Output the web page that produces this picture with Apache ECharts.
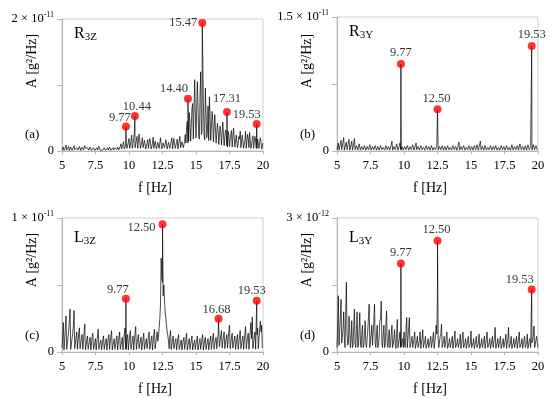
<!DOCTYPE html>
<html>
<head>
<meta charset="utf-8">
<script src="https://cdn.jsdelivr.net/npm/echarts@6/dist/echarts.min.js"></script>
<style>
html,body{margin:0;padding:0;background:#fff;}
#chart{width:550px;height:399px;}
</style>
</head>
<body>
<div id="chart"></div>
<script>
// Amplitudes are stored in units of 1e-12 g^2/Hz
const AMP_UNIT = 1e-12;
// Frequency bins (Hz): full bins 5.0 ... 20.0 and half bins 5.05 ... 19.95
const freqBins = [];
for (let i = 0; i <= 150; i++) freqBins.push(+(5 + i * 0.1).toFixed(2));
const halfBins = [];
for (let i = 0; i < 150; i++) halfBins.push(+(5.05 + i * 0.1).toFixed(2));

const xTicks = [5, 7.5, 10, 12.5, 15, 17.5, 20];

// (a) R3Z
const r3zAmp = [
0.15,0.6,0.1,0.9,0.15,0.7,0.1,0.5,0.15,0.8,
0.1,0.5,0.15,0.7,0.1,0.6,0.15,0.8,0.1,0.5,
0.15,0.6,0.1,0.4,0.7,0.1,0.5,0.15,0.6,0.1,
0.4,0.15,0.6,0.1,0.5,0.15,0.7,0.1,0.5,0.15,
0.8,0.2,0.9,0.25,1.1,0.3,1.4,0.3,1.2,0.4,
1.9,0.4,2.4,0.5,2.8,0.5,2.2,0.4,1.8,0.4,
2.0,0.3,1.5,0.4,1.7,0.3,1.3,0.4,2.1,0.3,
1.6,0.4,1.4,0.3,1.8,0.4,1.5,0.3,1.9,0.4,
1.4,0.4,2.0,0.4,1.6,0.4,1.8,0.4,2.2,0.4,
1.7,0.5,2.5,3.6,1.2,5.8,1.5,6.5,1.8,10.8,
2.0,10.5,2.2,8.4,2.5,14.8,2.4,9.5,2.0,6.8,
8.2,1.6,6.0,1.4,5.5,1.2,4.2,1.0,3.8,0.9,
4.4,0.8,3.2,0.8,3.0,0.7,2.6,0.6,3.5,0.6,
2.4,0.5,2.2,3.0,0.5,2.1,0.5,3.0,0.4,1.9,
2.8,0.4,1.7,0.4,2.2,0.4,1.8,0.4,2.0,0.3,
1.2];
const r3zHalf = [
0.4,0.1,0.5,0.15,0.4,0.1,0.6,0.1,0.4,0.15,
0.3,0.6,0.1,0.4,0.15,0.5,0.1,0.4,0.15,0.6,
0.1,0.4,0.15,0.5,0.1,0.4,0.15,0.7,0.1,0.4,
0.15,0.5,0.1,0.4,0.15,0.6,0.1,0.4,0.15,0.5,
0.4,0.6,0.2,0.7,0.3,1.0,0.3,0.9,0.4,1.3,
0.4,1.5,0.4,1.9,0.5,1.6,0.4,2.6,0.4,1.4,
0.5,1.6,0.3,1.2,0.4,1.9,0.3,1.1,0.4,1.5,
0.3,1.3,0.4,2.0,0.3,1.2,0.5,1.7,0.3,1.3,
0.4,1.5,0.3,1.9,0.4,1.3,0.3,1.6,0.5,1.4,
0.5,1.4,1.2,4.5,1.5,4.0,1.3,7.2,1.6,5.6,
1.9,6.8,1.8,12.0,3.0,7.5,1.7,5.8,2.8,1.6,
5.2,1.3,4.6,1.1,3.5,1.0,3.0,0.8,2.8,0.7,
2.5,0.6,2.7,0.6,2.3,0.5,3.1,0.6,2.0,0.5,
2.6,0.4,1.8,0.5,2.4,0.4,1.6,0.4,2.5,0.5,
1.6,0.4,2.3,0.4,1.5,0.4,1.9,0.3,1.4,0.4];
const r3zPeakFreq = [9.77, 10.44, 14.40, 15.47, 17.31, 19.53];
const r3zPeakAmp  = [3.7, 5.3, 7.9, 19.4, 5.9, 4.1];

// (b) R3Y
const r3yAmp = [
0.15,0.9,0.1,1.2,0.15,1.5,0.1,1.0,0.2,1.3,
0.15,1.1,0.1,1.4,0.15,0.8,0.1,1.0,0.15,0.7,
0.1,0.8,0.15,0.6,0.1,0.9,0.15,0.6,0.1,0.7,
0.1,0.6,0.15,0.8,0.1,0.5,0.15,0.7,0.1,0.6,
0.15,1.1,0.1,0.7,0.15,0.6,0.1,0.9,0.15,0.7,
0.1,0.6,0.15,0.8,0.1,0.7,0.15,0.5,0.1,0.9,
0.15,0.6,0.1,0.8,0.15,0.5,0.1,0.7,0.15,0.6,
0.1,0.7,0.15,0.5,0.1,0.8,0.15,0.6,0.1,0.7,
0.15,0.6,0.1,0.8,0.15,0.5,0.1,0.7,0.15,0.6,
0.1,1.0,0.15,0.6,0.1,0.7,0.15,0.5,0.1,0.8,
0.15,0.6,0.1,0.7,0.15,0.9,0.1,1.1,0.15,0.6,
0.1,0.7,0.15,0.5,0.1,0.8,0.15,0.6,0.1,0.7,
0.15,0.5,0.1,0.8,0.15,0.6,0.1,0.7,0.15,0.5,
0.1,0.9,0.15,0.6,0.1,0.7,0.15,1.0,0.1,0.6,
0.15,0.7,0.1,0.8,0.15,0.6,0.1,0.9,0.15,0.7,
0.1];
const r3yHalf = [
0.6,0.1,0.8,0.15,1.0,0.1,0.7,0.15,0.9,0.1,
0.7,0.1,0.9,0.15,0.6,0.1,0.8,0.1,0.5,0.15,
0.6,0.1,0.5,0.15,0.7,0.1,0.5,0.15,0.6,0.1,
0.5,0.1,0.6,0.15,0.4,0.1,0.6,0.15,0.5,0.1,
0.7,0.1,0.5,0.15,0.8,0.1,0.6,0.15,0.5,0.1,
0.5,0.15,0.6,0.1,0.5,0.15,0.7,0.1,0.6,0.15,
0.5,0.1,0.6,0.15,0.4,0.1,0.6,0.15,0.5,0.1,
0.6,0.1,0.4,0.15,0.6,0.1,0.5,0.15,0.6,0.1,
0.5,0.1,0.6,0.15,0.4,0.1,0.6,0.15,0.5,0.1,
0.7,0.1,0.5,0.15,0.6,0.1,0.4,0.15,0.6,0.1,
0.5,0.1,0.6,0.15,0.7,0.1,0.8,0.15,0.5,0.1,
0.6,0.1,0.4,0.15,0.6,0.1,0.5,0.15,0.6,0.1,
0.4,0.1,0.6,0.15,0.5,0.1,0.6,0.15,0.4,0.1,
0.7,0.1,0.5,0.15,0.6,0.1,0.8,0.15,0.5,0.1,
0.6,0.1,0.7,0.15,0.5,0.1,0.7,0.15,0.6,0.1];
const r3yPeakFreq = [9.77, 12.50, 19.53];
const r3yPeakAmp  = [9.74, 4.67, 11.76];

// (c) L3Z
const l3zAmp = [
0.3,2.2,0.2,2.7,0.3,1.6,3.2,0.2,1.4,3.1,
0.2,1.5,0.3,1.8,0.15,1.3,0.25,2.1,0.2,1.2,
0.15,1.1,0.2,1.4,0.1,1.0,0.2,1.7,0.15,0.9,
0.2,1.2,0.1,1.0,0.15,1.3,0.2,1.6,0.1,1.0,
0.15,1.2,0.2,1.5,0.15,1.1,0.25,1.8,0.2,1.3,
0.2,1.6,0.15,1.2,0.25,1.9,0.2,1.3,0.15,1.1,
0.2,1.4,0.15,1.0,0.2,1.5,0.15,1.2,0.25,1.7,
0.3,1.5,1.1,2.5,7.0,5.2,5.0,3.0,2.0,1.2,
0.25,1.6,0.2,1.2,0.15,1.0,0.2,1.3,0.15,0.9,
0.2,1.1,0.15,1.4,0.2,1.0,0.15,1.2,0.2,0.9,
0.15,1.2,0.2,1.0,0.15,1.3,0.2,1.1,0.15,1.0,
0.2,1.2,0.15,1.4,0.25,1.1,0.3,1.8,0.4,1.6,
0.3,1.5,0.3,1.3,0.35,2.0,0.3,1.4,0.25,1.2,
0.2,1.3,0.25,1.6,0.2,1.2,0.25,1.9,0.2,1.4,
0.25,2.2,2.6,0.3,1.5,0.25,1.8,0.3,2.3,2.0,
0.3];
const l3zHalf = [
1.2,0.15,1.8,0.2,1.1,2.4,0.2,1.0,2.0,0.25,
1.1,0.2,1.4,0.25,1.0,0.2,1.5,0.15,0.9,0.2,
0.8,0.15,1.1,0.2,0.7,0.15,1.2,0.2,0.7,0.15,
0.9,0.2,0.8,0.15,1.0,0.2,1.2,0.15,0.8,0.2,
0.9,0.15,1.1,0.2,0.8,0.15,1.3,0.2,1.0,0.15,
1.2,0.2,0.9,0.15,1.4,0.2,1.0,0.25,0.8,0.15,
1.0,0.2,0.8,0.25,1.1,0.2,0.9,0.15,1.3,0.25,
1.1,0.8,1.8,3.5,5.5,4.2,3.8,2.5,1.5,0.8,
1.2,0.2,0.9,0.25,0.8,0.15,1.0,0.2,0.7,0.15,
0.9,0.2,1.0,0.15,0.8,0.2,0.9,0.15,0.7,0.2,
0.9,0.15,0.8,0.2,1.0,0.15,0.9,0.2,0.8,0.15,
0.9,0.2,1.1,0.2,0.9,0.25,1.3,0.4,1.2,0.3,
1.2,0.25,1.0,0.3,1.6,0.25,1.1,0.3,0.9,0.2,
1.0,0.2,1.2,0.25,0.9,0.2,1.4,0.25,1.1,0.2,
1.6,1.0,0.25,1.2,0.2,1.3,0.25,1.7,1.5,0.3];
const l3zPeakFreq = [9.77, 12.50, 16.68, 19.53];
const l3zPeakAmp  = [3.97, 9.53, 2.48, 3.82];

// (d) L3Y
const l3yAmp = [
0.1,1.26,0.15,1.18,0.2,0.9,0.1,1.56,0.15,0.8,
0.1,0.7,0.15,0.96,0.1,0.9,0.15,0.88,0.1,0.6,
0.15,0.7,0.1,0.5,1.07,0.1,0.6,0.15,1.07,0.1,
0.6,0.15,0.7,1.14,0.1,0.6,0.15,0.92,0.1,0.5,
0.15,0.6,0.1,0.5,0.08,0.73,0.1,0.45,0.12,0.3,
0.45,0.1,0.77,0.08,0.77,0.1,0.35,0.08,0.45,0.1,
0.35,0.08,0.45,0.1,0.5,0.08,0.35,0.1,0.3,0.08,
0.35,0.08,0.45,0.1,0.6,1.47,0.1,0.35,0.62,0.1,
0.35,0.08,0.45,0.1,0.3,0.08,0.35,0.1,0.47,0.08,
0.3,0.08,0.4,0.1,0.45,0.08,0.3,0.1,0.35,0.08,
0.47,0.08,0.3,0.1,0.35,0.08,0.4,0.1,0.3,0.08,
0.35,0.1,0.45,0.08,0.3,0.1,0.35,0.08,0.55,0.1,
0.3,0.08,0.35,0.1,0.3,0.08,0.4,0.1,0.55,0.08,
0.35,0.1,0.3,0.08,0.35,0.1,0.45,0.08,0.3,0.1,
0.35,0.08,0.4,0.1,0.3,0.08,0.25,0.58,0.1,0.35,
0.1];
const l3yHalf = [
0.6,0.15,0.8,0.2,0.5,0.3,0.9,0.4,0.2,0.5,
0.3,0.1,0.6,0.2,0.5,0.1,0.5,0.2,0.4,0.1,
0.4,0.2,0.3,0.8,0.1,0.4,0.15,0.7,0.2,0.4,
0.1,0.4,0.75,0.2,0.4,0.1,0.6,0.2,0.3,0.1,
0.4,0.1,0.3,0.15,0.4,0.1,0.3,0.1,0.25,0.1,
0.15,0.5,0.1,0.55,0.1,0.25,0.1,0.3,0.08,0.25,
0.1,0.25,0.08,0.3,0.1,0.25,0.08,0.2,0.1,0.25,
0.1,0.3,0.08,0.35,0.4,0.3,0.1,0.4,0.1,0.25,
0.1,0.3,0.08,0.2,0.1,0.25,0.08,0.3,0.1,0.2,
0.1,0.25,0.08,0.3,0.1,0.2,0.08,0.25,0.1,0.2,
0.1,0.2,0.08,0.25,0.1,0.2,0.08,0.2,0.1,0.25,
0.08,0.3,0.1,0.2,0.08,0.25,0.1,0.3,0.08,0.2,
0.1,0.25,0.08,0.2,0.1,0.25,0.08,0.3,0.1,0.2,
0.08,0.2,0.1,0.25,0.08,0.3,0.1,0.2,0.08,0.25,
0.1,0.2,0.08,0.25,0.1,0.2,0.35,0.1,0.08,0.2];
const l3yPeakFreq = [9.77, 12.50, 19.53];
const l3yPeakAmp  = [1.98, 2.49, 1.40];

// Axis maxima (units of 1e-12) and their tick label texts
const yMax = [20, 15, 10, 3];
const yTopMantissa = ['2', '1.5', '1', '3'];
const yTopExponent = ['-11', '-11', '-11', '-12'];
const panelNames = [['R','3Z'], ['R','3Y'], ['L','3Z'], ['L','3Y']];
const panelTags = ['(a)', '(b)', '(c)', '(d)'];

// ---------- layout / style (not data) ----------
const SERIF = '"Liberation Serif","Times New Roman",serif';
const gridBoxes = [
  {left: 62, top: 19, width: 201, height: 132},
  {left: 337, top: 17, width: 201, height: 134},
  {left: 62, top: 218, width: 201, height: 134},
  {left: 337, top: 218, width: 201, height: 134}
];
const labelOffsets = [
  [[-6,-9],[2,-9],[-14,-10],[-19,0],[0,-13],[-10,-9]],
  [[0,-11],[-1,-11],[0,-11]],
  [[-8,-9],[-21,3],[-2,-9],[-5,-10]],
  [[0,-11],[-1,-11],[-12,-10]]
];

const specs = [
  {amp: r3zAmp, half: r3zHalf, pf: r3zPeakFreq, pa: r3zPeakAmp},
  {amp: r3yAmp, half: r3yHalf, pf: r3yPeakFreq, pa: r3yPeakAmp},
  {amp: l3zAmp, half: l3zHalf, pf: l3zPeakFreq, pa: l3zPeakAmp},
  {amp: l3yAmp, half: l3yHalf, pf: l3yPeakFreq, pa: l3yPeakAmp}
];

const grids = [], xAxes = [], yAxes = [], series = [], graphics = [];
specs.forEach((s, k) => {
  const g = gridBoxes[k];
  grids.push(Object.assign({show: true, borderColor: '#cfcfcf', borderWidth: 1, backgroundColor: 'transparent', containLabel: false, outerBoundsMode: 'none'}, g));
  xAxes.push({
    type: 'value', gridIndex: k, min: xTicks[0], max: xTicks[xTicks.length-1], interval: xTicks[1]-xTicks[0],
    axisLine: {show: true, lineStyle: {color: '#b5b5b5', width: 1}},
    axisTick: {show: true, length: 3, lineStyle: {color: '#b5b5b5'}},
    axisLabel: {color: '#000', fontFamily: SERIF, fontSize: 12.5, margin: 8},
    splitLine: {show: false}
  });
  const M = yMax[k];
  yAxes.push({
    type: 'value', gridIndex: k, min: 0, max: M, interval: M / 2,
    axisLine: {show: true, lineStyle: {color: '#b5b5b5', width: 1}},
    axisTick: {show: true, length: 5, lineStyle: {color: '#b5b5b5'}},
    splitLine: {show: false},
    axisLabel: {
      color: '#000', fontFamily: SERIF, fontSize: 12.5, margin: 8,
      formatter: function (v) {
        if (v === 0) return '0';
        if (Math.abs(v - M) < 1e-9) return '{m|' + yTopMantissa[k] + ' × 10}{e|' + yTopExponent[k] + '}';
        return '';
      },
      rich: {
        m: {fontFamily: SERIF, fontSize: 12.5, color: '#000'},
        e: {fontFamily: SERIF, fontSize: 8, color: '#000', padding: [0, 0, 8, 0]}
      }
    }
  });
  const pts = s.amp.map((a, i) => [freqBins[i], a]);
  s.half.forEach((a, i) => pts.push([halfBins[i], a]));
  s.pf.forEach((f, i) => pts.push([f, s.pa[i]]));
  pts.sort((p, q) => p[0] - q[0]);
  series.push({
    type: 'line', xAxisIndex: k, yAxisIndex: k, data: pts, symbol: 'none', sampling: false,
    lineStyle: {color: '#000', width: 0.7}, silent: true, z: 2
  });
  series.push({
    type: 'scatter', xAxisIndex: k, yAxisIndex: k, symbol: 'circle', symbolSize: 8,
    itemStyle: {color: '#ff0000'}, z: 5,
    data: s.pf.map((f, i) => ({
      value: [f, s.pa[i]],
      label: {show: true, position: 'inside', offset: labelOffsets[k][i], formatter: f.toFixed(2),
              color: '#000', fontFamily: SERIF, fontSize: 12.5}
    }))
  });
  graphics.push({
    type: 'text', left: g.left + 12, top: g.top + (k < 2 ? 7 : 12), z: 10,
    style: {
      text: '{a|' + panelNames[k][0] + '}{b|' + panelNames[k][1] + '}',
      rich: {a: {fontFamily: SERIF, fontSize: 16, fill: '#000', color: '#000'},
             b: {fontFamily: SERIF, fontSize: 11, fill: '#000', color: '#000', padding: [7, 0, 0, 0]}}
    }
  });
  graphics.push({
    type: 'text', left: g.left - 37, top: g.top + g.height - 23, z: 10,
    style: {text: panelTags[k], font: '13px ' + SERIF, fill: '#000'}
  });
  graphics.push({
    type: 'text', x: g.left - 30, y: g.top + 42 + (k === 1 ? 2 : 0), rotation: Math.PI / 2, z: 10,
    style: {text: 'A [g²/Hz]', font: '14px ' + SERIF, fill: '#000', align: 'center', verticalAlign: 'middle', textAlign: 'center', textVerticalAlign: 'middle'}
  });
  graphics.push({
    type: 'text', x: g.left + 93, y: g.top + g.height + 37, z: 10,
    style: {text: 'f [Hz]', font: '14px ' + SERIF, fill: '#000', align: 'center', verticalAlign: 'middle', textAlign: 'center', textVerticalAlign: 'middle'}
  });
});

const chart = echarts.init(document.getElementById('chart'), null, {renderer: 'canvas'});
chart.setOption({
  animation: false,
  backgroundColor: '#fff',
  grid: grids, xAxis: xAxes, yAxis: yAxes, series: series,
  graphic: graphics
});
</script>
</body>
</html>
